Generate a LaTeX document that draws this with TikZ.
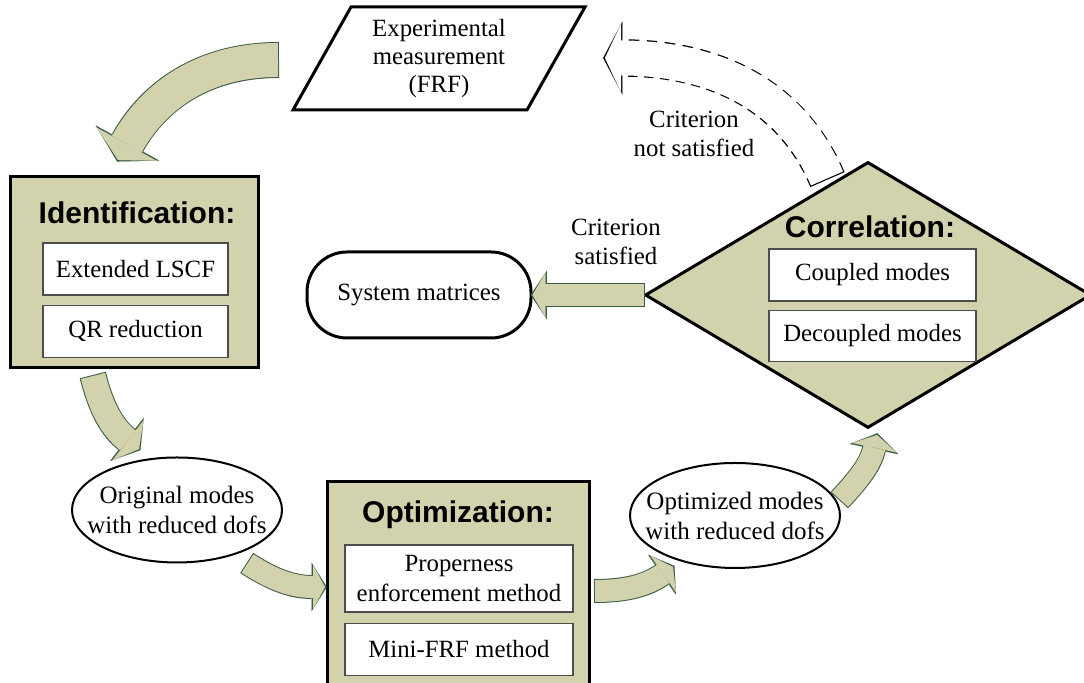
\documentclass[tikz,border=0pt]{standalone}
\usepackage{fontspec}
\setmainfont{Liberation Serif}
\setsansfont{Liberation Sans}
\usetikzlibrary{arrows.meta,shapes.geometric,positioning}

\definecolor{boxfill}{RGB}{210,211,173}
\definecolor{arrowline}{RGB}{58,92,66}

\newcommand{\blockopts}[3]{%
        \pgfmathsetmacro\bawo{#1+1}%
        \pgfmathsetmacro\baho{#2+2.2}%
        \pgfmathsetmacro\balo{#3+1.6}%
        \edef\baopts{preaction={draw=arrowline, line width=\bawo pt,
                shorten <=-0.5pt, shorten >=-0.9pt,
                -{Triangle[length=\balo pt, width=\baho pt, line width=0.01pt]}},
                draw=boxfill, line width=#1pt,
                -{Triangle[length=#3pt, width=#2pt, line width=0.01pt]}}%
        \expandafter\tikzset\expandafter{\baopts}}

\begin{document}
\begin{tikzpicture}[x=0.5pt, y=0.5pt]
        \tikzset{
                basic/.style   = {draw, line width=1.5pt, inner sep=0pt},
                stage/.style   = {basic, fill=boxfill},
                inbox/.style   = {draw=black!70, line width=0.6pt, fill=white, inner sep=0pt,
                                  align=center, font=\fontsize{12.4}{15}\selectfont},
                heading/.style = {font=\sffamily\bfseries\fontsize{15}{18}\selectfont},
                modes/.style   = {ellipse, draw, line width=1pt, fill=white,
                                  inner xsep=-8pt, inner ysep=0pt,
                                  align=center, minimum width=105pt, minimum height=52.5pt,
                                  font=\fontsize{12.5}{15}\selectfont},
                remark/.style  = {align=center, font=\fontsize{12.4}{14.5}\selectfont},
                blockarrow/.code n args={3}{\blockopts{#1}{#2}{#3}},
                dasharrow/.style = {preaction={draw=black, line width=18.7pt,
                                  dash pattern=on 5pt off 3.5pt,
                                  shorten <=-0.6pt, shorten >=-0.9pt,
                                  -{Triangle[length=9.6pt, width=36.4pt, line width=0.01pt]}},
                                  draw=white, line width=17.5pt,
                                  -{Triangle[length=8pt, width=34pt, line width=0.01pt]}}
        }
        \useasboundingbox (0,0) rectangle (1084,683);

        % measured data (FRF)
        \node[align=center, font=\fontsize{12.4}{14}\selectfont] (frf) at (439,624.5)
                {Experimental\\measurement\\(FRF)};
        \draw[line width=1.5pt] (frf.center) ++(-88,51.5) -- ++(234,0) -- ++(-58,-103)
                -- ++(-234,0) -- cycle;

        % identification stage
        \node[stage, minimum width=124pt, minimum height=95.5pt] (ident) at (134,410.5) {};
        \node[heading] (identhead) at (137,470) {Identification:};
        \node[inbox, minimum width=92.5pt, minimum height=26pt] (lscf) at (135.5,414) {Extended LSCF};
        \node[inbox, minimum width=92.5pt, minimum height=26pt, below=4.5pt of lscf] (qr) {QR reduction};

        % optimization stage
        \node[stage, minimum width=131pt, minimum height=104pt] (opt) at (458,97) {};
        \node[heading] (opthead) at (458,168) {Optimization:};
        \node[inbox, minimum width=114pt, minimum height=33.5pt] (prop) at (459,104.5)
                {Properness\\enforcement method};
        \node[inbox, minimum width=114pt, minimum height=26pt, below=5pt of prop] (mini) {Mini-FRF method};

        % correlation check
        \node[diamond, stage, minimum width=223pt, minimum height=133pt] (corr) at (868,388) {};
        \node[heading] (corrhead) at (870,456) {Correlation:};
        \node[inbox, minimum width=103.5pt, minimum height=26pt] (coupled) at (872.5,408) {Coupled modes};
        \node[inbox, minimum width=103.5pt, minimum height=25.5pt, below=4pt of coupled] (decoupled) {Decoupled modes};

        % results
        \node[basic, rounded corners=20pt, minimum width=112pt, minimum height=43pt,
                font=\fontsize{12.4}{15}\selectfont] (sysmat) at (419,388) {System matrices};
        \node[modes] (orig) at (177,173) {Original modes\\with reduced dofs};
        \node[modes] (optd) at (735,167.5) {Optimized modes\\with reduced dofs};

        \node[remark] (sat) at (616,441) {Criterion\\satisfied};
        \node[remark] (notsat) at (694,549) {Criterion\\not satisfied};

        % ends of the block arrows
        \coordinate (a1s) at (278,623);   \coordinate (a1e) at (118,523);
        \coordinate (a2s) at (93,307);    \coordinate (a2e) at (139,234);
        \coordinate (a3s) at (247.5,119.5); \coordinate (a3e) at (325,96);
        \coordinate (a4s) at (595,92);    \coordinate (a4e) at (673,116);
        \coordinate (a5s) at (840,183.5); \coordinate (a5e) at (877,248);
        \coordinate (ds) at (827,504.5);  \coordinate (de) at (605,625);

        \draw[blockarrow={17}{34}{9}] (a1s) to[out=180, in=61] (a1e);
        \draw[blockarrow={12.5}{25}{7}] (a2s) to[out=-76, in=142] (a2e);
        \draw[blockarrow={11}{22}{6}] (a3s) to[out=-33, in=180] (a3e);
        \draw[blockarrow={11}{22}{6}] (a4s) to[out=0, in=215] (a4e);
        \draw[blockarrow={11}{22.5}{6.5}] (a5s) to[out=47, in=258] (a5e);
        \draw[blockarrow={11}{22}{6.5}] (corr.west) -- (sysmat.east);

        % loop back when the criterion fails
        \draw[dasharrow] (ds) to[out=113, in=0] (de);
\end{tikzpicture}
\end{document}
